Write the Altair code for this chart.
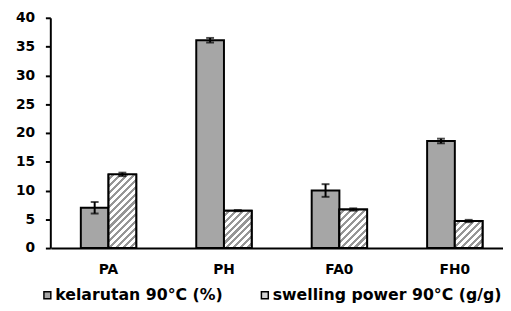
import math
import altair as alt
import pandas as pd

categories = ["PA", "PH", "FA0", "FH0"]
series = ["kelarutan 90°C (%)", "swelling power 90°C (g/g)"]
kelarutan = [7.0, 36.1, 10.0, 18.6]
kelarutan_err = [1.0, 0.4, 1.1, 0.4]
swelling = [12.8, 6.5, 6.7, 4.7]
swelling_err = [0.3, 0.1, 0.2, 0.2]
y_ticks = [0, 5, 10, 15, 20, 25, 30, 35, 40]

PLOT_W = 460
PLOT_H = 234
Y_MAX = 40
X_RANGE = [0.5, 469.7]
STEP = (X_RANGE[1] - X_RANGE[0]) / 4
BAR_W = STEP * 0.48 / 2
HATCH_PERIOD = 7.0
HATCH_GRAY = "#969696"
BAR_GRAY = "#a6a6a6"
FONT = "DejaVu Sans"

rows = []
for i, c in enumerate(categories):
    rows.append({"cat": c, "series": series[0], "value": kelarutan[i], "err": kelarutan_err[i]})
    rows.append({"cat": c, "series": series[1], "value": swelling[i], "err": swelling_err[i]})
df = pd.DataFrame(rows)

x_scale = alt.Scale(domain=categories, range=X_RANGE, paddingInner=0.52, paddingOuter=0.26)
x_axis = alt.Axis(title=None, labelAngle=0, ticks=False, domainColor="black", domainWidth=2,
                  labelFont=FONT, labelFontWeight="bold", labelFontSize=14, labelColor="black",
                  labelPadding=15)
x_enc = alt.X("cat:N", sort=categories, scale=x_scale, axis=x_axis)
xoff = alt.XOffset("series:N", sort=series, scale=alt.Scale(domain=series, paddingInner=0, paddingOuter=0))
y_scale = alt.Scale(domain=[0, Y_MAX], nice=False, zero=True)
y_axis = alt.Axis(title=None, values=y_ticks, grid=False, domainColor="black", domainWidth=2,
                  tickColor="black", tickWidth=2, tickSize=5, labelPadding=11,
                  labelOverlap=False, labelFlush=False,
                  labelFont=FONT, labelFontWeight="bold", labelFontSize=14, labelColor="black")


def yq(field):
    return alt.Y(field, type="quantitative", scale=y_scale, axis=y_axis)


base = alt.Chart(df)

bars = base.mark_bar(stroke="black", strokeWidth=2).encode(
    x=x_enc,
    xOffset=xoff,
    y=yq("value"),
    fill=alt.Fill("series:N", sort=series,
                  scale=alt.Scale(domain=series, range=[BAR_GRAY, "#d4d4d4"]),
                  legend=alt.Legend(title=None, orient="none", legendX=-11, legendY=274,
                                    direction="horizontal", symbolType="square", symbolSize=49,
                                    symbolStrokeColor="black", symbolStrokeWidth=1.5,
                                    labelFont=FONT, labelFontWeight="bold", labelFontSize=16,
                                    labelLimit=0,
                                    labelColor="black", labelOffset=0, columnPadding=34, padding=0)),
)


def hatch_gradient(v):
    h = v / Y_MAX * PLOT_H
    w = BAR_W
    n = (w * w + h * h) / (w * HATCH_PERIOD)
    stops = []
    white_frac = 0.55
    k = 0
    while k / n < 1:
        a = k / n
        b = min((k + white_frac) / n, 1)
        e = min((k + 1) / n, 1)
        stops += [{"offset": a, "color": "white"}, {"offset": b, "color": "white"},
                  {"offset": b, "color": HATCH_GRAY}, {"offset": e, "color": HATCH_GRAY}]
        k += 1
    return {"gradient": "linear", "x1": 0, "y1": 0, "x2": 1, "y2": h / w, "stops": stops}


hatch_layers = []
for i, c in enumerate(categories):
    hatch_layers.append(
        base.transform_filter(
            (alt.datum.cat == c) & (alt.datum.series == series[1])
        ).mark_bar(stroke="black", strokeWidth=2, fill=hatch_gradient(swelling[i])).encode(
            x=x_enc,
            xOffset=xoff,
            y=yq("value"),
        )
    )

err_base = base.transform_calculate(lo="datum.value - datum.err", hi="datum.value + datum.err")
err_rule = err_base.mark_rule(color="black", strokeWidth=2).encode(
    x=x_enc, xOffset=xoff, y=yq("lo"), y2="hi:Q")
cap_lo = err_base.mark_tick(color="black", thickness=2, size=8).encode(
    x=x_enc, xOffset=xoff, y=yq("lo"))
cap_hi = err_base.mark_tick(color="black", thickness=2, size=8).encode(
    x=x_enc, xOffset=xoff, y=yq("hi"))

chart = alt.layer(bars, *hatch_layers, err_rule, cap_lo, cap_hi).properties(
    width=PLOT_W, height=PLOT_H,
    autosize=alt.AutoSizeParams(type="none"),
    padding={"left": 43, "top": 7.5, "right": 0, "bottom": 61.5},
    background="white",
).configure_view(stroke=None)

chart.save("out.html", embed_options={"renderer": "svg", "actions": False})
